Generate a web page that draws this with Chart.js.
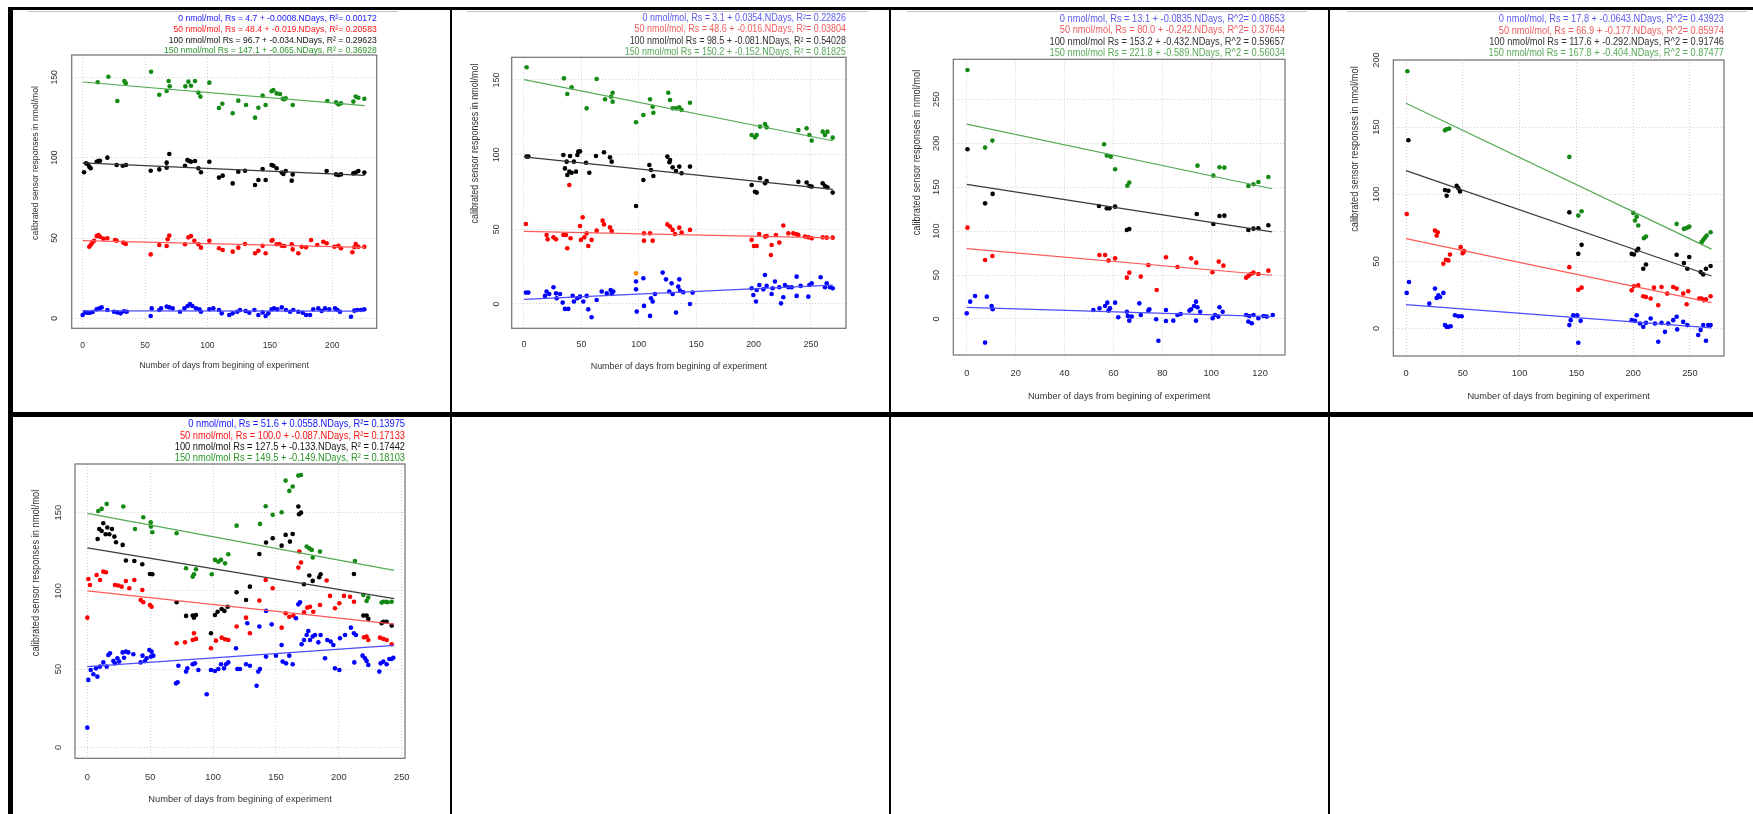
<!DOCTYPE html>
<html><head><meta charset="utf-8">
<script src="https://cdn.jsdelivr.net/npm/chart.js@4.4.1/dist/chart.umd.min.js"></script>
<style>
html,body{margin:0;padding:0;background:#fff;}
body{width:1753px;height:814px;position:relative;overflow:hidden;}
canvas{position:absolute;}
.b{position:absolute;background:#000;}
.g{position:absolute;background:#c4c4c4;height:1px;}
</style></head><body>
<div class="b" style="left:8px;top:7px;width:1745px;height:3px"></div>
<div class="b" style="left:8px;top:7px;width:5px;height:807px"></div>
<div class="b" style="left:450px;top:7px;width:2px;height:807px"></div>
<div class="b" style="left:889px;top:7px;width:2px;height:807px"></div>
<div class="b" style="left:1328px;top:7px;width:2px;height:807px"></div>
<div class="b" style="left:8px;top:412px;width:1745px;height:5px"></div>
<div class="g" style="left:28px;top:11px;width:370px"></div>
<div class="g" style="left:467px;top:11px;width:401px"></div>
<div class="g" style="left:907px;top:11px;width:400px"></div>
<div class="g" style="left:1347px;top:11px;width:400px"></div>
<canvas id="c1"></canvas><canvas id="c2"></canvas><canvas id="c3"></canvas><canvas id="c4"></canvas><canvas id="c5"></canvas>
<script>
// ---------------- DATA ----------------
const X_LABEL = "Number of days from begining of experiment";
const Y_LABEL = "calibrated sensor responses in nmol/mol";

// Panel 1
const p1Titles = ["0 nmol/mol, Rs = 4.7 + -0.0008.NDays, R\u00b2= 0.00172","50 nmol/mol, Rs = 48.4 + -0.019.NDays, R\u00b2= 0.20583","100 nmol/mol Rs = 96.7 + -0.034.NDays, R\u00b2 = 0.29623","150 nmol/mol Rs = 147.1 + -0.065.NDays, R\u00b2 = 0.36928"];
const p1XTicks = [0,50,100,150,200];
const p1YTicks = [0,50,100,150];
const p1Intercepts = [4.7,48.4,96.7,147.1];
const p1Slopes = [-0.0008,-0.019,-0.034,-0.065];
const p1Span = [0,226];
const p1_0 = [[0,2.1],[1.9,3.7],[3.7,3.5],[5.9,3.5],[8.0,3.9],[11.2,5.6],[13.4,6.2],[15.2,6.8],[19.8,5.2],[25.1,4.1],[27.8,3.7],[30.4,3.1],[33.1,4.4],[35.3,4.1],[54.5,1.5],[55.3,6.2],[61.4,5.2],[62.8,6.2],[67.3,7.3],[69.4,6.8],[72.1,6.2],[78.0,4.1],[81.5,6.2],[84.1,7.7],[86.0,8.9],[87.9,7.7],[90.8,6.2],[93.5,5.6],[94.8,4.1],[101.5,5.6],[104.7,6.2],[109.2,5.2],[111.4,3.1],[117.5,2.1],[120.2,3.1],[123.9,4.1],[126.1,5.2],[130.6,4.6],[133.5,3.5],[137.6,5.2],[140.8,2.1],[144.2,3.7],[146.6,1.5],[148.8,3.1],[151.4,5.6],[153.3,6.2],[155.9,5.6],[159.5,6.8],[162.9,5.2],[166.2,4.1],[168.8,5.2],[172.8,4.1],[176.3,3.5],[179.0,2.1],[182.2,2.1],[184.8,5.6],[188.8,6.2],[191.5,4.6],[194.2,6.2],[197.6,5.6],[202.2,6.2],[204.1,5.2],[206.2,4.1],[215.0,1.0],[217.7,4.8],[220.1,5.2],[223.0,5.2],[225.7,5.6]];
const p1_50 = [[5.3,44.6],[6.4,45.6],[7.7,47.1],[9.1,48.3],[11.2,51.2],[12.6,51.9],[13.9,50.8],[16.6,49.6],[19.8,49.8],[25.9,48.8],[27.2,48.3],[32.6,47.1],[34.5,46.3],[54.5,39.8],[61.4,45.6],[67.3,45.0],[68.1,49.2],[69.4,51.5],[82.0,46.1],[84.7,50.4],[86.8,51.2],[89.5,48.3],[92.7,46.1],[94.8,44.0],[101.5,48.3],[109.2,43.6],[112.2,42.5],[120.2,41.5],[124.7,44.0],[130.1,46.3],[138.1,40.5],[140.8,42.1],[144.2,45.2],[146.6,40.5],[151.4,48.3],[152.2,48.8],[155.4,46.1],[157.6,46.3],[159.5,45.2],[161.6,45.0],[167.5,46.1],[168.3,42.9],[172.8,40.5],[175.5,44.6],[179.0,44.2],[183.0,48.8],[188.0,45.6],[192.8,47.7],[195.5,46.7],[201.7,44.6],[204.9,45.2],[207.0,43.6],[216.1,41.1],[217.7,44.2],[218.8,46.3],[220.9,44.6],[225.7,44.6]];
const p1_100 = [[1.1,90.9],[2.7,96.5],[4.0,95.9],[5.3,94.4],[6.4,93.4],[11.2,97.5],[12.6,97.9],[13.9,98.1],[19.8,100.0],[27.2,95.4],[32.1,95.0],[34.7,95.4],[54.5,91.9],[61.4,92.7],[67.3,93.8],[67.3,96.9],[69.4,102.3],[82.0,95.0],[83.9,98.5],[85.5,97.9],[86.8,97.5],[90.0,97.9],[92.7,93.4],[94.8,90.9],[101.5,97.5],[109.2,87.6],[112.2,88.8],[120.2,84.0],[124.7,91.3],[130.1,91.9],[138.1,83.0],[140.8,86.1],[144.2,92.9],[146.6,86.1],[151.4,95.4],[152.8,95.0],[155.4,93.4],[159.5,90.7],[160.8,89.8],[162.7,91.7],[167.5,85.7],[168.3,89.6],[195.5,91.7],[203.0,89.6],[204.9,89.2],[207.0,89.6],[216.9,90.2],[218.8,90.7],[220.9,91.7],[225.7,90.7]];
const p1_150 = [[12.0,146.9],[20.6,150.4],[27.8,135.3],[33.4,147.7],[34.5,146.3],[54.8,153.5],[61.4,139.2],[67.3,141.5],[68.9,147.7],[69.7,144.4],[82.3,144.4],[84.7,147.3],[86.8,144.8],[90.0,147.7],[92.7,140.5],[94.3,138.0],[101.5,146.7],[109.2,130.9],[111.9,133.6],[120.2,127.6],[124.7,135.5],[130.9,132.8],[138.1,124.9],[140.8,131.1],[144.2,138.6],[146.6,132.8],[151.4,141.3],[152.8,142.1],[155.4,140.0],[158.1,139.6],[160.3,136.7],[161.3,136.3],[162.7,136.9],[168.3,132.8],[196.0,135.3],[203.0,134.4],[204.9,133.2],[207.0,133.8],[216.9,134.9],[218.8,138.0],[220.9,137.3],[225.7,136.7]];

// Panel 2
const p2Titles = ["0 nmol/mol, Rs = 3.1 + 0.0354.NDays, R\u00b2= 0.22826","50 nmol/mol, Rs = 48.6 + -0.016.NDays, R\u00b2= 0.03804","100 nmol/mol Rs = 98.5 + -0.081.NDays, R\u00b2 = 0.54028","150 nmol/mol Rs = 150.2 + -0.152.NDays, R\u00b2 = 0.81825"];
const p2XTicks = [0,50,100,150,200,250];
const p2YTicks = [0,50,100,150];
const p2Intercepts = [3.1,48.6,98.5,150.2];
const p2Slopes = [0.0354,-0.016,-0.081,-0.152];
const p2Span = [0,269];
const p2_0 = [[1.7,7.6],[3.8,7.6],[18.3,5.4],[19.7,8.3],[22.0,6.7],[25.7,11.2],[27.9,7.1],[28.5,3.8],[31.4,6.7],[33.7,0.9],[35.7,-3.3],[38.6,-3.3],[42.4,5.4],[43.5,1.6],[46.5,3.8],[48.8,4.9],[51.7,1.6],[54.6,5.4],[56.0,-3.6],[58.9,-8.9],[63.3,2.7],[67.7,8.3],[72.1,7.1],[75.5,9.4],[76.4,6.7],[77.8,8.3],[97.6,15.0],[97.6,9.8],[98.2,-5.1],[104.0,17.2],[104.5,-1.3],[109.8,-8.0],[110.6,3.8],[112.1,1.6],[114.1,6.7],[120.8,21.0],[123.7,16.5],[126.6,8.3],[128.6,13.8],[129.5,6.7],[132.4,-5.8],[135.3,16.5],[134.4,11.6],[135.9,8.9],[138.8,7.8],[144.6,0.0],[146.9,7.6],[198.3,10.5],[199.8,6.0],[202.1,1.6],[202.7,9.4],[205.0,12.7],[208.5,9.8],[209.9,19.4],[211.4,12.1],[215.7,6.7],[216.6,10.5],[218.6,15.0],[222.4,11.2],[223.9,0.4],[225.9,4.5],[227.3,12.7],[230.3,11.2],[233.2,11.2],[237.5,18.3],[237.5,5.4],[241.0,12.1],[247.7,4.9],[248.6,12.7],[250.6,13.8],[258.4,17.9],[262.2,11.2],[263.7,13.8],[266.5,11.2],[268.9,10.5]];
const p2_50 = [[1.7,53.6],[19.7,46.2],[20.6,43.3],[25.7,44.6],[27.9,43.3],[34.3,46.2],[36.6,46.2],[37.7,37.3],[39.5,79.7],[40.6,44.0],[48.8,52.2],[51.1,58.0],[49.6,42.9],[52.6,44.6],[54.6,47.3],[56.0,38.8],[58.9,42.9],[63.3,49.1],[68.5,55.8],[69.7,53.3],[74.9,51.3],[76.4,48.9],[104.5,47.3],[109.8,47.3],[104.5,42.4],[112.1,42.4],[124.9,53.3],[127.2,51.8],[129.5,49.6],[131.5,46.9],[135.3,51.1],[137.3,47.8],[144.6,49.6],[198.3,42.9],[200.3,38.8],[202.7,38.8],[204.9,46.9],[210.0,45.1],[211.4,45.5],[215.7,39.5],[215.1,32.8],[219.5,46.2],[222.4,41.1],[225.9,52.5],[230.3,47.3],[234.6,47.3],[237.5,46.7],[239.0,46.2],[244.8,45.1],[247.7,44.6],[250.6,44.0],[260.2,44.6],[263.7,44.4],[268.9,44.4]];
const p2_100 = [[2.3,98.7],[3.8,98.7],[34.3,99.8],[35.7,90.8],[37.2,95.3],[37.7,86.4],[39.5,88.6],[40.1,99.1],[41.5,87.9],[43.5,95.3],[45.3,88.6],[46.5,99.8],[47.3,102.0],[48.8,102.2],[54.0,94.6],[56.9,87.9],[62.7,99.1],[69.7,101.6],[74.9,98.2],[76.4,95.3],[97.6,65.6],[104.0,83.0],[109.2,93.1],[110.6,89.7],[112.7,85.7],[124.9,98.7],[126.7,94.9],[127.2,96.4],[129.5,91.5],[132.4,89.1],[135.3,92.0],[137.3,87.5],[144.6,92.0],[198.3,79.7],[201.2,75.2],[202.7,74.6],[205.6,84.2],[210.0,80.8],[211.4,82.4],[239.0,81.9],[246.2,81.3],[248.6,79.0],[250.6,78.6],[260.2,80.8],[262.2,79.0],[264.3,78.1],[268.9,74.6]];
const p2_150 = [[2.3,158.5],[34.8,151.1],[37.7,140.6],[41.5,145.1],[54.6,131.0],[63.3,150.7],[70.6,137.1],[75.8,138.8],[77.2,141.5],[77.2,135.5],[97.6,121.7],[104.0,126.6],[109.8,137.1],[112.1,132.1],[112.7,128.1],[125.7,141.5],[127.2,136.6],[129.5,131.0],[132.4,131.0],[135.3,131.7],[137.3,129.9],[144.6,134.8],[198.3,113.2],[201.2,111.6],[202.7,113.2],[205.6,118.8],[210.0,120.5],[211.4,118.3],[239.0,116.5],[246.2,117.6],[248.6,113.2],[250.6,109.4],[260.2,115.4],[262.2,113.2],[264.3,115.4],[268.9,111.4]];
const p2_extra = [[97.6,20.5]];

// Panel 3
const p3Titles = ["0 nmol/mol, Rs = 13.1 + -0.0835.NDays, R^2= 0.08653","50 nmol/mol, Rs = 80.0 + -0.242.NDays, R^2= 0.37644","100 nmol/mol Rs = 153.2 + -0.432.NDays, R^2 = 0.59657","150 nmol/mol Rs = 221.8 + -0.589.NDays, R^2 = 0.56034"];
const p3XTicks = [0,20,40,60,80,100,120];
const p3YTicks = [0,50,100,150,200,250];
const p3Intercepts = [13.1,80.0,153.2,221.8];
const p3Slopes = [-0.0835,-0.242,-0.432,-0.589];
const p3Span = [0,125];
const p3_0 = [[0,6.4],[1.4,19.7],[3.4,26.2],[7.5,-26.9],[8.2,25.4],[10.2,14.8],[10.6,11.0],[51.8,10.2],[54.3,12.1],[56.6,14.8],[57.5,18.6],[58.0,9.5],[58.6,12.1],[60.7,18.6],[62.0,1.9],[65.5,8.3],[65.9,3.4],[66.5,-1.9],[67.5,2.7],[70.6,17.8],[71.2,4.6],[74.3,9.5],[74.7,11.0],[77.5,-0.4],[78.4,-24.7],[81.5,10.2],[81.5,-2.3],[84.5,-1.9],[86.2,4.6],[87.5,5.7],[91.1,9.5],[91.8,11.0],[93.0,14.8],[93.8,19.7],[93.8,-1.9],[94.4,13.3],[95.5,8.3],[100.6,0.8],[101.6,4.6],[102.9,2.7],[103.4,13.3],[104.7,8.3],[114.3,4.6],[115.2,-3.0],[115.6,3.4],[116.6,-4.9],[117.3,4.6],[119.3,0.8],[121.4,3.4],[122.7,2.7],[125.2,4.6]];
const p3_50 = [[0.3,103.9],[7.5,67.1],[10.5,71.7],[54.3,72.8],[56.6,72.8],[58.0,66.4],[60.7,69.0],[65.5,47.0],[66.5,52.7],[71.2,48.2],[74.3,61.5],[77.7,33.0],[81.5,70.2],[86.2,59.2],[91.8,69.0],[93.9,64.1],[100.5,53.1],[103.1,65.3],[105.0,60.7],[114.3,47.0],[115.2,48.9],[116.2,51.2],[117.3,52.7],[119.3,51.2],[123.4,55.0]];
const p3_100 = [[0.3,193.1],[7.5,131.6],[10.6,142.3],[54.1,128.6],[57.3,125.9],[58.4,125.9],[60.7,127.8],[65.5,101.3],[66.5,102.4],[94.1,119.5],[100.9,108.1],[103.4,117.2],[105.4,117.6],[115.2,101.3],[117.3,102.8],[119.3,103.2],[123.4,106.6]];
const p3_150 = [[0.3,283.4],[7.5,195.0],[10.5,203.0],[56.2,198.8],[57.3,185.9],[58.9,184.7],[60.7,170.3],[65.7,151.7],[66.5,155.2],[94.4,174.5],[100.9,163.1],[103.4,172.6],[105.4,172.2],[115.2,151.4],[117.3,153.3],[119.3,155.9],[123.4,161.6]];

// Panel 4
const p4Titles = ["0 nmol/mol, Rs = 17.8 + -0.0643.NDays, R^2= 0.43923","50 nmol/mol, Rs = 66.9 + -0.177.NDays, R^2= 0.85974","100 nmol/mol Rs = 117.6 + -0.292.NDays, R^2 = 0.91746","150 nmol/mol Rs = 167.8 + -0.404.NDays, R^2 = 0.87477"];
const p4XTicks = [0,50,100,150,200,250];
const p4YTicks = [0,50,100,150,200];
const p4Intercepts = [17.8,66.9,117.6,167.8];
const p4Slopes = [-0.0643,-0.177,-0.292,-0.404];
const p4Span = [0,269];
const p4_0 = [[0.6,26.5],[2.6,34.6],[20.5,18.5],[25.5,29.7],[27.0,22.7],[28.5,24.7],[30.0,23.5],[32.9,26.5],[34.3,2.5],[35.8,1.2],[37.3,1.2],[39.3,1.7],[43.1,9.9],[46.1,9.1],[49.0,9.1],[143.8,2.5],[145.0,6.2],[147.3,9.9],[150.8,9.9],[151.7,-10.6],[153.8,5.7],[198.7,6.2],[201.6,5.7],[203.1,9.9],[206.0,3.7],[208.9,1.2],[211.3,4.2],[215.4,7.4],[219.2,3.7],[222.1,-9.9],[225.0,4.2],[228.0,-2.5],[230.9,3.7],[235.3,6.2],[238.3,8.7],[238.8,-0.7],[244.1,4.9],[247.7,2.5],[257.3,-4.9],[259.4,-1.2],[261.7,2.5],[264.1,-9.1],[266.1,2.5],[268.2,2.5]];
const p4_50 = [[0.6,85.3],[25.5,72.9],[27.0,69.2],[27.9,71.7],[32.9,48.2],[35.2,51.2],[37.3,50.7],[38.7,55.1],[48.1,60.6],[49.9,56.1],[51.1,57.6],[143.8,45.7],[151.7,28.9],[154.6,30.4],[198.7,28.4],[200.7,31.4],[204.5,32.1],[208.9,24.0],[211.3,23.5],[215.4,22.3],[218.3,30.4],[222.1,17.3],[225.0,30.9],[230.0,26.0],[235.3,30.9],[238.3,29.7],[244.1,26.0],[247.1,18.1],[248.5,27.7],[258.2,22.3],[260.3,22.3],[262.3,21.0],[264.1,21.8],[268.2,24.0]];
const p4_100 = [[2.1,140.2],[34.3,103.1],[35.8,98.9],[37.3,102.6],[44.6,106.3],[46.1,104.4],[47.5,102.1],[143.8,86.5],[151.7,55.6],[154.6,62.3],[198.7,55.6],[200.7,55.1],[203.1,58.1],[204.5,59.3],[208.9,44.5],[211.3,47.7],[238.3,54.9],[244.7,48.7],[247.7,44.5],[249.4,53.2],[259.4,42.0],[261.7,40.3],[264.1,44.5],[268.2,46.5]];
const p4_150 = [[1.2,191.6],[34.3,147.6],[35.8,148.4],[38.1,148.9],[143.8,127.8],[151.7,84.1],[154.6,87.3],[200.1,86.1],[201.6,80.4],[203.1,83.3],[204.5,76.7],[209.5,67.3],[211.3,68.5],[238.3,77.9],[244.7,74.2],[246.5,74.7],[248.5,75.4],[249.4,75.9],[260.3,64.3],[261.7,66.0],[263.2,67.5],[264.7,69.2],[268.2,71.7]];

// Panel 5
const p5Titles = ["0 nmol/mol, Rs = 51.6 + 0.0558.NDays, R\u00b2= 0.13975","50 nmol/mol, Rs = 100.0 + -0.087.NDays, R\u00b2= 0.17133","100 nmol/mol Rs = 127.5 + -0.133.NDays, R\u00b2 = 0.17442","150 nmol/mol Rs = 149.5 + -0.149.NDays, R\u00b2 = 0.18103"];
const p5XTicks = [0,50,100,150,200,250];
const p5YTicks = [0,50,100,150];
const p5Intercepts = [51.6,100.0,127.5,149.5];
const p5Slopes = [0.0558,-0.087,-0.133,-0.149];
const p5Span = [0,244];
const p5_0 = [[0,12.6],[0.8,43.1],[2.7,49.4],[4.8,46.7],[6.9,50.5],[8.0,45.2],[10.1,51.6],[12.7,54.3],[15.4,51.6],[16.7,59.0],[18.0,60.1],[20.7,55.2],[22.0,53.7],[23.9,56.9],[25.4,54.8],[28.1,60.7],[29.2,57.3],[30.7,61.2],[32.6,60.7],[36.6,59.5],[42.4,54.3],[43.9,58.6],[45.9,55.2],[47.2,56.9],[49.3,62.2],[50.6,58.0],[51.1,61.2],[52.5,58.6],[70.5,40.9],[71.8,41.6],[72.4,52.2],[78.5,48.4],[79.5,50.5],[83.8,53.1],[85.6,53.7],[88.3,49.4],[94.9,33.9],[98.3,49.4],[101.5,48.8],[104.2,50.1],[106.3,53.1],[108.7,50.5],[110.3,53.1],[112.1,54.3],[118.2,63.3],[119.3,50.1],[121.4,50.1],[126.2,53.1],[127.2,79.3],[129.3,52.2],[134.6,39.4],[135.9,48.4],[136.8,77.2],[137.3,50.1],[142.1,87.2],[142.1,58.0],[146.6,78.6],[150.0,58.6],[154.5,65.4],[155.3,54.8],[158.0,53.7],[160.6,58.6],[163.3,53.1],[165.9,82.5],[167.8,91.4],[169.1,92.7],[170.4,65.9],[172.3,68.6],[174.4,71.8],[175.7,74.4],[177.1,68.6],[179.2,70.8],[181.0,71.8],[183.7,67.1],[185.5,71.8],[189.0,56.9],[190.8,68.6],[193.5,67.6],[195.6,65.4],[196.9,50.5],[200.4,49.4],[200.9,69.7],[204.9,71.8],[209.6,76.5],[212.0,72.9],[212.3,54.3],[213.6,71.8],[218.9,58.6],[220.8,56.9],[222.1,55.2],[223.4,52.6],[232.2,48.4],[233.2,53.7],[235.4,54.8],[238.0,53.1],[240.1,56.5],[242.0,56.5],[243.3,57.3]];
const p5_50 = [[0,82.9],[0.8,107.6],[2.1,103.8],[7.4,110.2],[10.1,107.0],[12.7,112.3],[14.8,111.9],[22.0,103.8],[24.6,103.4],[27.3,102.7],[30.7,106.3],[33.4,101.7],[37.4,107.0],[42.4,94.2],[43.7,100.6],[44.5,92.7],[49.8,91.0],[51.1,89.9],[71.0,66.5],[77.7,67.1],[83.8,68.6],[84.8,72.9],[86.4,69.3],[98.3,63.3],[102.3,68.2],[106.8,70.1],[109.5,69.1],[112.1,68.6],[118.7,77.2],[126.2,82.9],[129.3,72.9],[136.8,93.8],[141.8,107.0],[147.4,101.7],[154.5,76.5],[157.7,85.7],[160.6,83.5],[163.8,84.2],[167.8,114.9],[168.6,125.1],[169.9,118.1],[172.3,86.3],[174.9,89.3],[177.1,89.9],[179.7,86.7],[185.0,91.0],[190.3,106.6],[193.0,96.8],[196.9,88.9],[200.4,92.1],[204.1,96.8],[208.9,96.3],[212.0,93.1],[220.0,70.3],[222.1,70.8],[223.4,68.6],[232.7,70.1],[235.4,69.3],[238.0,68.6],[242.0,65.9]];
const p5_100 = [[8.2,133.2],[9.5,139.6],[11.4,138.3],[12.7,143.2],[14.6,136.2],[15.9,140.5],[17.5,136.2],[19.6,139.6],[21.5,134.7],[22.8,131.1],[28.1,129.4],[30.7,119.4],[37.4,119.1],[43.7,117.0],[49.8,110.8],[51.7,110.6],[71.0,92.7],[78.5,84.0],[83.8,84.2],[84.8,82.9],[86.4,84.6],[98.3,72.9],[101.5,84.6],[103.6,86.7],[106.8,88.4],[109.0,87.2],[111.6,89.9],[118.7,99.1],[126.2,94.2],[129.3,102.7],[136.8,123.6],[142.1,130.9],[147.4,133.6],[154.5,128.9],[157.7,135.8],[161.1,131.5],[163.3,136.4],[167.8,153.9],[168.3,149.0],[169.9,150.0],[172.3,104.2],[176.5,109.8],[179.2,106.4],[184.4,108.7],[185.5,110.6],[212.0,110.8],[219.5,84.2],[222.1,84.2],[223.4,82.1],[234.0,79.3],[235.4,80.3],[238.0,80.3],[242.0,77.8]];
const p5_150 = [[8.7,151.1],[11.4,152.4],[15.4,155.6],[28.6,153.9],[37.9,139.6],[44.5,147.1],[50.4,143.9],[50.6,141.1],[51.7,137.5],[71.0,136.8],[78.5,114.5],[83.8,109.1],[84.8,110.6],[86.4,113.8],[98.9,110.6],[101.5,119.8],[104.2,118.7],[106.3,119.8],[109.5,117.6],[112.1,123.4],[118.7,141.7],[137.3,142.8],[141.8,154.1],[147.4,148.6],[154.5,150.3],[157.7,170.5],[160.6,163.9],[163.3,166.7],[167.8,173.7],[169.9,174.1],[174.4,128.3],[176.5,127.2],[178.4,126.2],[179.2,121.3],[185.0,125.1],[212.8,119.1],[219.5,97.4],[222.1,93.6],[223.4,95.7],[234.0,92.5],[235.4,93.1],[237.5,93.1],[238.8,92.7],[242.0,93.1]];

// ---------------- STYLE / LAYOUT ----------------
const FONT = "'Liberation Sans', Arial, sans-serif";
const PT_COLS = ['#0000ff','#ff0000','#000000','#138a13'];
const LINE_COLS = ['#4b4bff','#ff5a5a','#3a3a3a','#55aa55'];
const TXT_SHARP = ['#1414ff','#ff1414','#141414','#2a962a'];
const TXT_SOFT = ['#5a5af0','#f05c5c','#333333','#58a858'];

const panels = [
  {id:'c1', fs:8.6, cell:{l:13,t:10,w:437,h:402}, box:{l:71.7,t:55,r:376.7,b:328.3}, xr:[-8.8,235.6], yr:[-6.2,163.9],
   titles:p1Titles, tcol:TXT_SHARP, titleY:[18.3,29.3,40,50.7], xlabY:365.7, ylab:{x:35,y:163}, xtOff:16, ytOff:16.7,
   xTicks:p1XTicks, yTicks:p1YTicks, a:p1Intercepts, b:p1Slopes, span:p1Span, series:[p1_0,p1_50,p1_100,p1_150]},
  {id:'c2', fs:8.95, cell:{l:452,t:10,w:437,h:402}, box:{l:511.7,t:57.3,r:846,b:328.3}, xr:[-10.7,280.5], yr:[-16.3,165.2],
   titles:p2Titles, tcol:TXT_SOFT, titleY:[18.3,29.3,40.7,51.7], xlabY:366.7, ylab:{x:475,y:143.5}, xtOff:15, ytOff:15,
   xTicks:p2XTicks, yTicks:p2YTicks, a:p2Intercepts, b:p2Slopes, span:p2Span, series:[p2_0,p2_50,p2_100,p2_150], extra:p2_extra},
  {id:'c3', fs:9.25, cell:{l:891,t:10,w:437,h:402}, box:{l:953.3,t:59.3,r:1285,b:355}, xr:[-5.5,130.2], yr:[-41,295.5],
   titles:p3Titles, tcol:TXT_SOFT, titleY:[19,30,41.7,52.7], xlabY:396, ylab:{x:916.7,y:152.5}, xtOff:16.7, ytOff:16.6,
   xTicks:p3XTicks, yTicks:p3YTicks, a:p3Intercepts, b:p3Slopes, span:p3Span, series:[p3_0,p3_50,p3_100,p3_150]},
  {id:'c4', fs:9.25, cell:{l:1330,t:10,w:423,h:402}, box:{l:1393.3,t:60,r:1724,b:356}, xr:[-11.2,280], yr:[-20.5,200],
   titles:p4Titles, tcol:TXT_SOFT, titleY:[19,30.7,41.7,52.7], xlabY:396, ylab:{x:1355,y:149}, xtOff:15.7, ytOff:16.6,
   xTicks:p4XTicks, yTicks:p4YTicks, a:p4Intercepts, b:p4Slopes, span:p4Span, series:[p4_0,p4_50,p4_100,p4_150]},
  {id:'c5', fs:9.3, cell:{l:13,t:417,w:437,h:397}, box:{l:75,t:464,r:405,b:758.3}, xr:[-9.8,252.6], yr:[-7,181.1],
   titles:p5Titles, tcol:TXT_SHARP, titleY:[424,435.7,446.7,457.7], xlabY:799.3, ylab:{x:36,y:573}, xtOff:17.4, ytOff:16.7,
   xTicks:p5XTicks, yTicks:p5YTicks, a:p5Intercepts, b:p5Slopes, span:p5Span, series:[p5_0,p5_50,p5_100,p5_150]}
];

// draws condensed text: taller glyphs squeezed to the width the reference shows
function condensedText(ctx, text, x, y, fs) {
  ctx.font = fs + 'px ' + FONT;
  const w = ctx.measureText(text).width;
  ctx.font = (fs * 1.14) + 'px ' + FONT;
  ctx.fillText(text, x, y, w);
}

function panelPlugin(P) {
  return {
    id: 'deco_' + P.id,
    afterDatasetsDraw(chart) {
      const {ctx, chartArea: a} = chart;
      ctx.save();
      ctx.strokeStyle = '#707070'; ctx.lineWidth = 1.2;
      ctx.strokeRect(a.left, a.top, a.right - a.left, a.bottom - a.top);
      ctx.restore();
    },
    afterDraw(chart) {
      const ctx = chart.ctx;
      ctx.save();
      ctx.textAlign = 'right'; ctx.textBaseline = 'middle';
      P.titles.forEach((t, i) => {
        ctx.fillStyle = P.tcol[i];
        condensedText(ctx, t, chart.chartArea.right, P.titleY[i] - P.cell.t, P.fs);
      });
      ctx.translate(P.ylab.x - P.cell.l, P.ylab.y - P.cell.t);
      ctx.rotate(-Math.PI / 2);
      ctx.textAlign = 'center';
      ctx.fillStyle = '#333333';
      condensedText(ctx, Y_LABEL, 0, 0, P.fs);
      ctx.restore();
    }
  };
}

function makeChart(P) {
  const cv = document.getElementById(P.id);
  cv.width = P.cell.w; cv.height = P.cell.h;
  cv.style.left = P.cell.l + 'px'; cv.style.top = P.cell.t + 'px';
  cv.style.width = P.cell.w + 'px'; cv.style.height = P.cell.h + 'px';
  const yW = 30;
  const xH = P.xlabY - P.box.b + P.fs * 1.2 / 2;
  const datasets = [];
  P.series.forEach((s, i) => {
    datasets.push({
      data: P.span.map(x => ({x: x, y: P.a[i] + P.b[i] * x})),
      showLine: true, borderColor: LINE_COLS[i], borderWidth: 1.2, pointRadius: 0, fill: false, order: 0
    });
    datasets.push({
      data: s.map(p => ({x: p[0], y: p[1]})),
      backgroundColor: PT_COLS[i], borderColor: PT_COLS[i], pointBorderWidth: 0, pointRadius: 2.3, order: 1
    });
  });
  if (P.extra) {
    datasets.push({data: P.extra.map(p => ({x: p[0], y: p[1]})), backgroundColor: '#ff8c00', borderColor: '#ff8c00', pointBorderWidth: 0, pointRadius: 2.3, order: 1});
  }
  const grid = {color: '#d2d2d2', lineWidth: 1, drawTicks: false, borderDash: [1, 2]};
  const border = {display: false, dash: [1, 2]};
  const tickFont = {family: FONT, size: P.fs};
  new Chart(cv, {
    type: 'scatter',
    data: {datasets},
    options: {
      responsive: false, animation: false, events: [], devicePixelRatio: 1,
      layout: {padding: {
        left: P.box.l - P.cell.l - yW,
        top: P.box.t - P.cell.t,
        right: P.cell.l + P.cell.w - P.box.r,
        bottom: P.cell.t + P.cell.h - P.box.b - xH
      }},
      plugins: {legend: {display: false}, tooltip: {enabled: false}},
      scales: {
        x: {
          type: 'linear', min: P.xr[0], max: P.xr[1],
          afterBuildTicks: s => { s.ticks = P.xTicks.map(v => ({value: v})); },
          afterFit: s => { s.height = xH; },
          grid, border,
          ticks: {padding: P.xtOff - 0.45 * P.fs, font: tickFont, color: '#333333', autoSkip: false, maxRotation: 0, minRotation: 0},
          title: {display: true, text: X_LABEL, font: {family: FONT, size: P.fs}, color: '#333333', padding: 0}
        },
        y: {
          type: 'linear', min: P.yr[0], max: P.yr[1],
          afterBuildTicks: s => { s.ticks = P.yTicks.map(v => ({value: v})); },
          afterFit: s => { s.width = yW; },
          grid, border,
          ticks: {padding: P.ytOff - 0.834 * P.fs, font: tickFont, color: '#333333', autoSkip: false, minRotation: 90, maxRotation: 90, crossAlign: 'center'}
        }
      }
    },
    plugins: [panelPlugin(P)]
  });
}

panels.forEach(makeChart);
</script>
</body></html>
